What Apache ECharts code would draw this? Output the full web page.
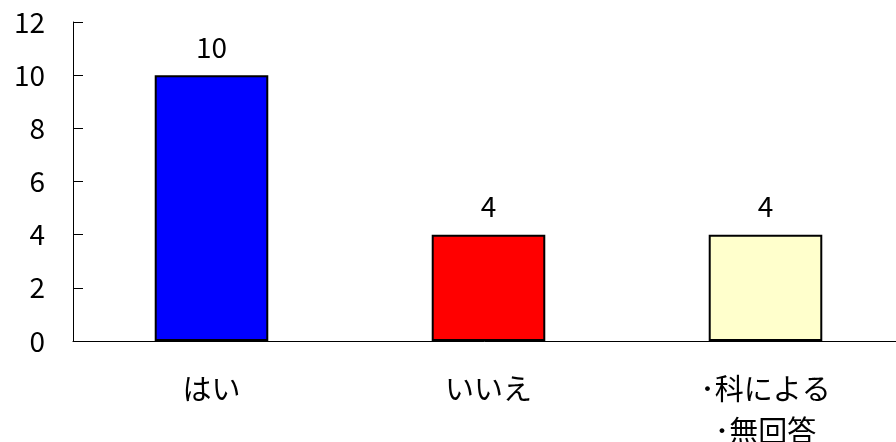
<!DOCTYPE html>
<html><head><meta charset="utf-8">
<script src="https://cdn.jsdelivr.net/npm/echarts@6/dist/echarts.min.js"></script>
<style>html,body{margin:0;padding:0;background:#fff}#c{width:896px;height:442px}</style>
</head><body><div id="c"></div>
<script>
const categories = ["はい", "いいえ", "･科による\n･無回答"];
const values = [10, 4, 4];
const barColors = ["#0000FF", "#FF0000", "#FFFFCC"];
const yTicks = [0, 2, 4, 6, 8, 10, 12];

const font = '"Noto Sans CJK JP", "Noto Sans", sans-serif';
const chart = echarts.init(document.getElementById('c'));
chart.setOption({
  animation: false,
  grid: { left: 73, right: -8, top: 22, bottom: 101, containLabel: false, outerBoundsMode: 'none' },
  xAxis: {
    type: 'category', data: categories,
    axisLine: { lineStyle: { color: '#000', width: 1 } },
    axisTick: { inside: true, length: 10, lineStyle: { color: '#000' } },
    axisLabel: { color: '#000', fontSize: 29, fontFamily: font, margin: 27, lineHeight: 42 }
  },
  yAxis: {
    type: 'value', min: yTicks[0], max: yTicks[yTicks.length - 1], interval: 2,
    axisLine: { show: true, lineStyle: { color: '#000', width: 1 } },
    axisTick: { show: true, inside: true, length: 10, lineStyle: { color: '#000' } },
    splitLine: { show: false },
    axisLabel: { color: '#000', fontSize: 28, fontFamily: font, margin: 28 }
  },
  series: [{
    type: 'bar', barWidth: '41%',
    data: values.map((v, i) => ({ value: v, itemStyle: { color: barColors[i] } })),
    itemStyle: { borderColor: '#000', borderWidth: 2 },
    label: { show: true, position: 'top', distance: 14, color: '#000', fontSize: 28, fontFamily: font }
  }]
});
</script></body></html>
